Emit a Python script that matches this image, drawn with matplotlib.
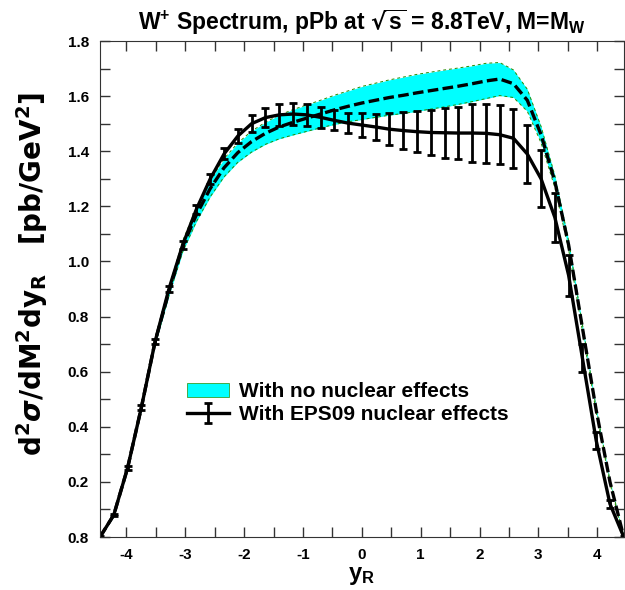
import matplotlib
matplotlib.use('Agg')
import matplotlib.pyplot as plt
from matplotlib.patches import Patch
from matplotlib.ticker import MultipleLocator

plt.rcParams['font.family'] = ['Liberation Sans', 'DejaVu Sans']
plt.rcParams['font.weight'] = 'bold'
plt.rcParams['mathtext.default'] = 'regular'

# rapidity grid of the calculation
y_R = [-4.450, -4.216, -3.982, -3.747, -3.513, -3.279, -3.045, -2.811, -2.576,
       -2.342, -2.108, -1.874, -1.639, -1.405, -1.171, -0.937, -0.703, -0.468,
       -0.234, 0.000, 0.234, 0.468, 0.703, 0.937, 1.171, 1.405, 1.639, 1.874,
       2.108, 2.342, 2.576, 2.811, 3.045, 3.279, 3.513, 3.747, 3.982, 4.216, 4.450]

# no nuclear effects: central value and band half-width
no_nuc = [0.00, 0.08, 0.25, 0.47, 0.71, 0.89, 1.055, 1.17, 1.265,
          1.34, 1.395, 1.435, 1.465, 1.488, 1.505, 1.52, 1.535, 1.55,
          1.563, 1.575, 1.585, 1.595, 1.603, 1.612, 1.62, 1.628, 1.636, 1.645,
          1.655, 1.662, 1.645, 1.585, 1.46, 1.29, 1.06, 0.76, 0.46, 0.20, 0.00]
no_nuc_err = [0.003, 0.005, 0.008, 0.01, 0.012, 0.015, 0.02, 0.025, 0.03,
              0.033, 0.035, 0.038, 0.04, 0.043, 0.046, 0.048, 0.05, 0.053,
              0.056, 0.06, 0.062, 0.064, 0.066, 0.067, 0.067, 0.067, 0.066, 0.065,
              0.064, 0.06, 0.05, 0.04, 0.03, 0.022, 0.016, 0.012, 0.008, 0.005, 0.003]

# EPS09 nuclear effects: central value and error
eps09 = [0.00, 0.08, 0.25, 0.47, 0.71, 0.90, 1.06, 1.19, 1.30,
         1.39, 1.455, 1.50, 1.522, 1.532, 1.535, 1.532, 1.523, 1.512,
         1.502, 1.495, 1.488, 1.48, 1.475, 1.471, 1.468, 1.467, 1.466, 1.466,
         1.465, 1.46, 1.447, 1.39, 1.30, 1.16, 0.95, 0.65, 0.35, 0.12, 0.00]
eps09_err = [0.002, 0.004, 0.006, 0.008, 0.01, 0.012, 0.014, 0.016, 0.018,
             0.02, 0.025, 0.03, 0.035, 0.04, 0.04, 0.04, 0.038, 0.036,
             0.036, 0.042, 0.048, 0.058, 0.066, 0.075, 0.083, 0.09, 0.096, 0.104,
             0.107, 0.108, 0.108, 0.107, 0.103, 0.09, 0.075, 0.05, 0.03, 0.015, 0.002]

ytick_vals = [0.0, 0.2, 0.4, 0.6, 0.8, 1.0, 1.2, 1.4, 1.6, 1.8]
ytick_labels = ['0.8', '0.2', '0.4', '0.6', '0.8', '1.0', '1.2', '1.4', '1.6', '1.8']
xtick_vals = [-4, -3, -2, -1, 0, 1, 2, 3, 4]

lo = [c - e for c, e in zip(no_nuc, no_nuc_err)]
hi = [c + e for c, e in zip(no_nuc, no_nuc_err)]

fig = plt.figure(figsize=(6.25, 5.9), dpi=100)
ax = fig.add_axes([0.16, 0.0898, 0.838, 0.8407])

ax.fill_between(y_R, lo, hi, color='cyan', lw=0)
ax.plot(y_R, lo, color='#2a8a00', lw=0.7, ls=(0, (3, 3)))
ax.plot(y_R, hi, color='#2a8a00', lw=0.7, ls=(0, (3, 3)))
ax.plot(y_R, no_nuc, color='black', lw=2.4, ls=(0, (3.2, 1.3)))

eb = ax.errorbar(y_R, eps09, yerr=eps09_err, color='black', lw=2.4,
                 elinewidth=2.0, capsize=2.8, capthick=2.0)

ax.set_xlim(-4.45, 4.45)
ax.set_ylim(0, 1.8)
ax.set_xticks(xtick_vals)
ax.set_xticklabels([str(v) for v in xtick_vals])
ax.set_yticks(ytick_vals)
ax.set_yticklabels(ytick_labels)
ax.xaxis.set_minor_locator(MultipleLocator(0.5))
ax.yaxis.set_minor_locator(MultipleLocator(0.1))
ax.tick_params(which='both', direction='in', top=True, right=True,
               labelsize=11, pad=8, width=1.0, color='#333333')
ax.tick_params(which='major', length=7)
ax.tick_params(which='minor', length=7)
for s in ax.spines.values():
    s.set_color('#333333')

ax.set_title(r'W$^{+}$ Spectrum, pPb at $\sqrt{s}$ = 8.8TeV, M=M$_{W}$',
             fontsize=16.5, fontweight='bold', pad=8)
ax.set_xlabel(r'y$_{R}$', fontsize=17, fontweight='bold')
ax.xaxis.set_label_coords(0.5, -0.055)
ax.set_ylabel(r'd$^{2}\mathit{\sigma}$/dM$^{2}$dy$_{R}$   [pb/GeV$^{2}$]',
              fontsize=20, fontweight='bold', family=['DejaVu Sans'])
ax.yaxis.set_label_coords(-0.095, 0.53)

handles = [Patch(facecolor='cyan', edgecolor='#2a8a00', lw=0.5), eb]
labels = ['With no nuclear effects', 'With EPS09 nuclear effects']
leg = ax.legend(handles, labels, loc='upper left', bbox_to_anchor=(0.13, 0.35),
                frameon=False, handlelength=2.0, handletextpad=0.5,
                labelspacing=0.2, prop={'weight': 'bold', 'size': 15})
for ln in leg.get_lines():
    ln.set_linewidth(4.5)

fig.savefig('out.png', dpi=100)
